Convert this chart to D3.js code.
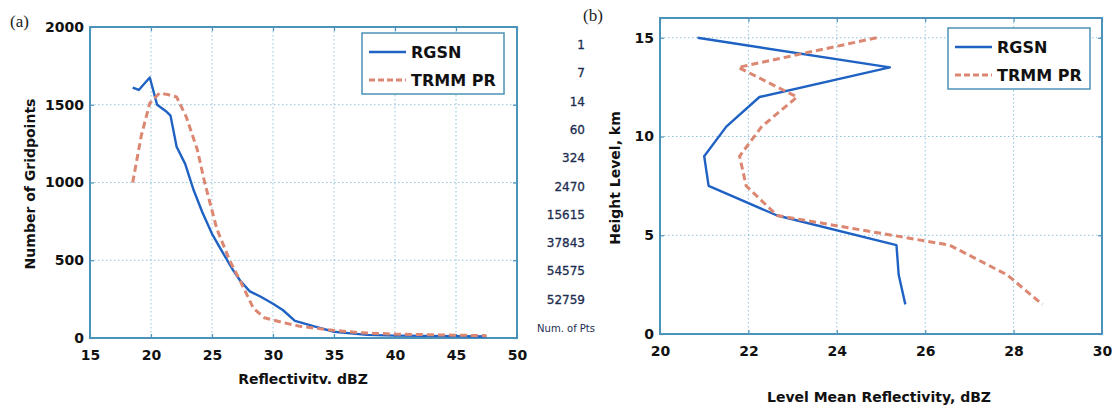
<!DOCTYPE html>
<html>
<head>
<meta charset="utf-8">
<script src="https://d3js.org/d3.v7.min.js"></script>
<style>
  body { margin: 0; background: #fff; }
  svg text { font-family: "DejaVu Sans", sans-serif; }
  svg text.letter { font-family: "Liberation Serif", "DejaVu Serif", serif; }
</style>
</head>
<body>
<div id="chart"></div>
<script>
// panel (a): gridpoint counts vs reflectivity
const rgsnDbz   = [18.5, 19.0, 19.9, 20.5, 21.2, 21.6, 22.1, 22.8, 23.5, 24.2, 25.0, 25.8, 26.7, 27.3, 28.1, 29.0, 30.0, 30.8, 31.8, 33.6, 35.0, 37.7, 40.0, 45.0, 47.5];
const rgsnCount = [1610, 1595, 1675, 1500, 1460, 1430, 1230, 1120, 950, 810, 670, 560, 440, 370, 300, 265, 220, 180, 110, 70, 40, 20, 15, 12, 10];
const trmmDbz   = [18.5, 19.2, 19.9, 20.7, 21.4, 22.1, 22.9, 23.8, 24.4, 25.4, 26.5, 27.3, 28.4, 29.3, 30.8, 32.2, 34.9, 37.0, 40.0, 45.0, 47.5];
const trmmCount = [1000, 1300, 1510, 1575, 1565, 1550, 1420, 1210, 1000, 700, 490, 370, 190, 130, 100, 75, 50, 35, 25, 18, 15];

// panel (b): level mean reflectivity vs height
const heights   = [15, 13.5, 12, 10.5, 9, 7.5, 6, 4.5, 3, 1.5];
const rgsnMean  = [20.85, 25.2, 22.25, 21.5, 21.0, 21.1, 22.65, 25.35, 25.4, 25.55];
const trmmMean  = [24.9, 21.77, 23.1, 22.3, 21.8, 21.95, 22.65, 26.55, 27.85, 28.65];
const numPts    = ["1", "7", "14", "60", "324", "2470", "15615", "37843", "54575", "52759"];

const seriesNames = ["RGSN", "TRMM PR"];
const xTicksA = [15, 20, 25, 30, 35, 40, 45, 50];
const yTicksA = [0, 500, 1000, 1500, 2000];
const xTicksB = [20, 22, 24, 26, 28, 30];
const yTicksB = [0, 5, 10, 15];

const blue = "#1f62c4", salmon = "#dc8772", frame = "#4b93b8", grid = "#8fc3da";

const svg = d3.select("#chart").append("svg")
  .attr("width", 1116).attr("height", 407);

function panel(opts) {
  const g = svg.append("g");
  const x = d3.scaleLinear().domain(opts.xDomain).range([opts.left, opts.right]);
  const y = d3.scaleLinear().domain(opts.yDomain).range([opts.bottom, opts.top]);

  // dotted grid
  g.selectAll(".gx").data(opts.xTicks.slice(1, -1)).enter().append("line")
    .attr("x1", d => x(d)).attr("x2", d => x(d))
    .attr("y1", opts.top).attr("y2", opts.bottom)
    .attr("stroke", grid).attr("stroke-width", 1).attr("stroke-dasharray", "1.5,2.5");
  g.selectAll(".gy").data(opts.yTicks.filter(t => t > opts.yDomain[0] && t < opts.yDomain[1])).enter().append("line")
    .attr("y1", d => y(d)).attr("y2", d => y(d))
    .attr("x1", opts.left).attr("x2", opts.right)
    .attr("stroke", grid).attr("stroke-width", 1).attr("stroke-dasharray", "1.5,2.5");

  // axes with inward ticks on all sides
  const axB = g.append("g").attr("transform", `translate(0,${opts.bottom})`)
    .call(d3.axisBottom(x).tickValues(opts.xTicks).tickSize(-4).tickPadding(12).tickFormat(d3.format("d")));
  const axT = g.append("g").attr("transform", `translate(0,${opts.top})`)
    .call(d3.axisTop(x).tickValues(opts.xTicks).tickSize(-4).tickFormat(""));
  const axL = g.append("g").attr("transform", `translate(${opts.left},0)`)
    .call(d3.axisLeft(y).tickValues(opts.yTicks).tickSize(-4).tickPadding(6).tickFormat(d3.format("d")));
  const axR = g.append("g").attr("transform", `translate(${opts.right},0)`)
    .call(d3.axisRight(y).tickValues(opts.yTicks).tickSize(-4).tickFormat(""));
  [axB, axT, axL, axR].forEach(a => {
    a.select(".domain").remove();
    a.selectAll(".tick line").attr("stroke", frame).attr("stroke-width", 1.2);
    a.selectAll("text").attr("font-size", 14).attr("font-weight", "bold").attr("fill", "#111")
      .attr("font-family", "DejaVu Sans, sans-serif");
  });
  axB.selectAll("text").attr("dy", "0.71em");

  g.append("rect")
    .attr("x", opts.left).attr("y", opts.top)
    .attr("width", opts.right - opts.left).attr("height", opts.bottom - opts.top)
    .attr("fill", "none").attr("stroke", frame).attr("stroke-width", 2);

  const line = d3.line().x(d => x(d[0])).y(d => y(d[1]));
  opts.series.forEach((s, i) => {
    g.append("path").datum(s)
      .attr("d", line).attr("fill", "none")
      .attr("stroke", i === 0 ? blue : salmon)
      .attr("stroke-width", i === 0 ? 2.4 : 3)
      .attr("stroke-dasharray", i === 0 ? null : "7,4")
      .attr("stroke-linejoin", "round");
  });

  // legend
  const lg = g.append("g").attr("transform", `translate(${opts.legend[0]},${opts.legend[1]})`);
  lg.append("rect").attr("width", 142).attr("height", 61)
    .attr("fill", "#fff").attr("stroke", frame).attr("stroke-width", 1.5);
  seriesNames.forEach((n, i) => {
    const yy = 19 + i * 28;
    lg.append("line").attr("x1", 7).attr("x2", 44).attr("y1", yy).attr("y2", yy)
      .attr("stroke", i === 0 ? blue : salmon)
      .attr("stroke-width", i === 0 ? 2.4 : 3)
      .attr("stroke-dasharray", i === 0 ? null : "6,3");
    lg.append("text").attr("x", 49).attr("y", yy + 6).text(n)
      .attr("font-size", 16).attr("font-weight", "bold").attr("fill", "#111");
  });
  return { x, y };
}

const a = panel({
  left: 90, right: 517, top: 27, bottom: 338,
  xDomain: [15, 50], yDomain: [0, 2000], xTicks: xTicksA, yTicks: yTicksA,
  series: [d3.zip(rgsnDbz, rgsnCount), d3.zip(trmmDbz, trmmCount)],
  legend: [362, 33]
});

const b = panel({
  left: 660, right: 1102, top: 18, bottom: 334,
  xDomain: [20, 30], yDomain: [0, 16], xTicks: xTicksB, yTicks: yTicksB,
  series: [d3.zip(rgsnMean, heights), d3.zip(trmmMean, heights)],
  legend: [948, 28]
});

// axis titles
svg.append("text").attr("x", 303).attr("y", 384).attr("text-anchor", "middle")
  .attr("font-size", 14).attr("font-weight", "bold").attr("fill", "#111").text("Reflectivitv. dBZ");
svg.append("text").attr("transform", "translate(35,184) rotate(-90)").attr("text-anchor", "middle")
  .attr("font-size", 14).attr("font-weight", "bold").attr("fill", "#111").text("Number of Gridpoints");
svg.append("text").attr("x", 879).attr("y", 402).attr("text-anchor", "middle")
  .attr("font-size", 14).attr("font-weight", "bold").attr("fill", "#111").text("Level Mean Reflectivity, dBZ");
svg.append("text").attr("transform", "translate(620,178) rotate(-90)").attr("text-anchor", "middle")
  .attr("font-size", 14).attr("font-weight", "bold").attr("fill", "#111").text("Height Level, km");

// number of points per level
const numY = d3.scaleLinear().domain([0, numPts.length]).range([45, 45 + 28.3 * numPts.length]);
svg.selectAll(".np").data(numPts).enter().append("text")
  .attr("x", 585).attr("y", (d, i) => numY(i) + 4).attr("text-anchor", "end")
  .attr("font-size", 12).attr("fill", "#1d2d4f").attr("stroke", "#1d2d4f").attr("stroke-width", 0.3)
  .text(d => d);
svg.append("text").attr("x", 595).attr("y", numY(numPts.length) + 4).attr("text-anchor", "end")
  .attr("font-size", 10).attr("fill", "#1d2d4f").text("Num. of Pts");

// panel letters
svg.append("text").attr("class", "letter").attr("x", 10).attr("y", 27)
  .attr("font-size", 17).attr("fill", "#222").text("(a)");
svg.append("text").attr("class", "letter").attr("x", 583).attr("y", 21)
  .attr("font-size", 17).attr("fill", "#222").text("(b)");
</script>
</body>
</html>
